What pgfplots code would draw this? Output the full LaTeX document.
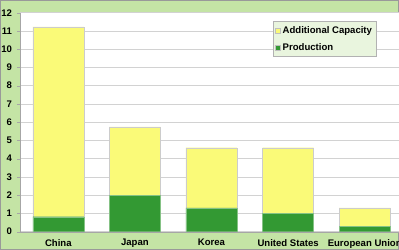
\documentclass[border=0pt]{standalone}
\usepackage{pgfplots}
\pgfplotsset{compat=1.18}
\usepackage{fontspec}
\setmainfont{Liberation Sans}
\definecolor{bggreen}{RGB}{196,228,165}
\definecolor{capyellow}{RGB}{250,250,120}
\definecolor{prodgreen}{RGB}{51,153,51}
\definecolor{legfill}{RGB}{233,245,222}
\definecolor{gridgray}{RGB}{210,210,210}
\begin{document}
\begin{tikzpicture}[x=1bp,y=1bp]
\useasboundingbox (0,0) rectangle (399,250);
\clip (0,0) rectangle (399,250);
\fill[bggreen] (0,0) rectangle (399,250);
\draw[gray!80,line width=1.5bp] (0,0) rectangle (399,250);
\begin{axis}[
  at={(20bp,18.3bp)}, anchor=south west,
  scale only axis, width=383bp, height=219bp,
  ybar stacked, bar width=51bp,
  xmin=-0.5, xmax=4.5, ymin=0, ymax=12,
  xtick={0,1,2,3,4},
  xticklabels={China,Japan,Korea,United States,European Union},
  extra x ticks={0.5,1.5,2.5,3.5},
  extra x tick labels={},
  extra x tick style={major tick length=3bp, tick style={gray!70}, grid=none},
  x tick style={draw=none},
  ytick={0,1,...,12},
  ymajorgrids, grid style={gridgray,line width=0.8bp},
  y tick style={gray!70}, major tick length=3bp,
  tick align=outside,
  axis background/.style={fill=white},
  axis x line*=bottom, axis y line*=left,
  axis line style={gray!70},
  /pgf/number format/assume math mode=true,
  tick label style={font=\bfseries\fontsize{9.6}{11}\selectfont},
  xticklabel style={yshift=-1bp},
  yticklabel style={xshift=-1.5bp},
  legend style={at={(0.93,0.962)}, anchor=north east, fill=legfill, draw=gray!60,
    font=\bfseries\fontsize{9.6}{11}\selectfont, row sep=4.5pt, inner xsep=2pt, inner ysep=3pt},
  legend image code/.code={\fill[#1,draw=gray!50] (0bp,-2.5bp) rectangle (5bp,2.5bp);},
  legend cell align=left,
  reverse legend,
]
\addplot[fill=prodgreen, draw=prodgreen!60!white] coordinates {(0,0.82) (1,2.01) (2,1.31) (3,1.0) (4,0.31)};
\addplot[fill=capyellow, draw=gray!40] coordinates {(0,10.40) (1,3.74) (2,3.29) (3,3.6) (4,1.0)};
\legend{Production,Additional Capacity}
\end{axis}
\end{tikzpicture}
\end{document}
